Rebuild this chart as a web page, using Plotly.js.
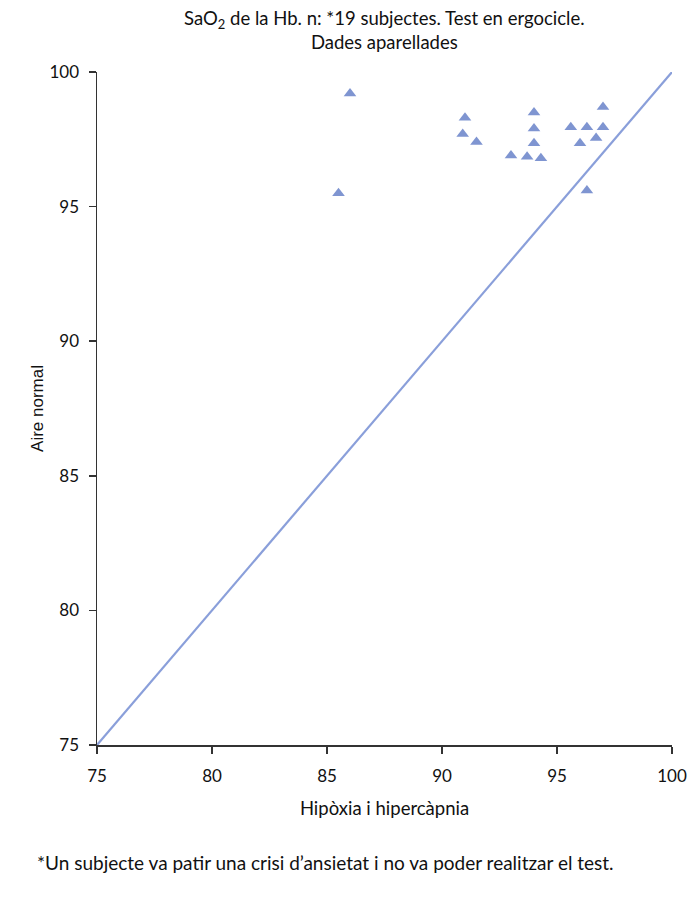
<!DOCTYPE html>
<html>
<head>
<meta charset="utf-8">
<script src="https://cdn.plot.ly/plotly-3.0.1.min.js"></script>
<style>html,body{margin:0;padding:0;background:#fff;}</style>
</head>
<body>
<div id="chart" style="width:700px;height:899px;"></div>
<script>
// Paired SaO2 values
const hipoxia = [85.5, 86.0, 91.0, 90.9, 91.5, 93.0, 93.7, 94.3, 94.0, 94.0, 94.0, 95.6, 96.3, 96.0, 96.7, 97.0, 97.0, 96.3];
const aireNormal = [95.5, 99.2, 98.3, 97.7, 97.4, 96.9, 96.85, 96.8, 98.5, 97.9, 97.35, 97.95, 97.95, 97.35, 97.55, 98.7, 97.95, 95.6];
// Identity line endpoints
const identityX = [75, 100];
const identityY = [75, 100];
const tickVals = [75, 80, 85, 90, 95, 100];

const fontFam = 'Lato, "Open Sans", sans-serif';
const sansFam = '"Liberation Sans", Arial, sans-serif';

const data = [
  {
    x: identityX, y: identityY, type: 'scatter', mode: 'lines',
    line: {color: '#8a9fda', width: 2.2}, hoverinfo: 'skip', showlegend: false
  },
  {
    x: hipoxia, y: aireNormal, type: 'scatter', mode: 'markers',
    marker: {symbol: 'triangle-up', size: 11, color: '#7f95d1'},
    showlegend: false
  }
];

const layout = {
  width: 700, height: 899,
  margin: {l: 97, r: 28, t: 72, b: 154},
  paper_bgcolor: '#fff', plot_bgcolor: '#fff',
  font: {family: fontFam, size: 16, color: '#111'},
  title: {
    text: 'SaO<sub>2</sub> de la Hb. n: *19 subjectes. Test en ergocicle.<br>Dades aparellades',
    font: {family: fontFam, size: 18.5, color: '#111'},
    x: 0.549, xanchor: 'center', y: 0.972, yanchor: 'middle'
  },
  xaxis: {
    range: [75, 100], tickvals: tickVals, ticks: 'outside', ticklen: 7, tickwidth: 1.5,
    tickcolor: '#333', showline: true, linecolor: '#333', linewidth: 1.5,
    showgrid: false, zeroline: false, ticklabelstandoff: 8,
    tickfont: {size: 17, family: fontFam},
    title: {text: 'Hipòxia i hipercàpnia', font: {size: 18.5, family: fontFam}, standoff: 17}
  },
  yaxis: {
    range: [75, 100], tickvals: tickVals, ticks: 'outside', ticklen: 7, tickwidth: 1.5,
    tickcolor: '#333', showline: true, linecolor: '#333', linewidth: 1.5,
    showgrid: false, zeroline: false, ticklabelstandoff: 6,
    tickfont: {size: 17, family: fontFam},
    title: {text: 'Aire normal', font: {size: 17, family: sansFam}, standoff: 1}
  },
  annotations: [{
    text: '*Un subjecte va patir una crisi d’ansietat i no va poder realitzar el test.',
    xref: 'paper', yref: 'paper', x: -0.108, y: -0.174, xanchor: 'left', yanchor: 'middle',
    showarrow: false, font: {size: 19, family: fontFam, color: '#111'}
  }]
};

Plotly.newPlot('chart', data, layout, {displayModeBar: false, staticPlot: true});
</script>
</body>
</html>
